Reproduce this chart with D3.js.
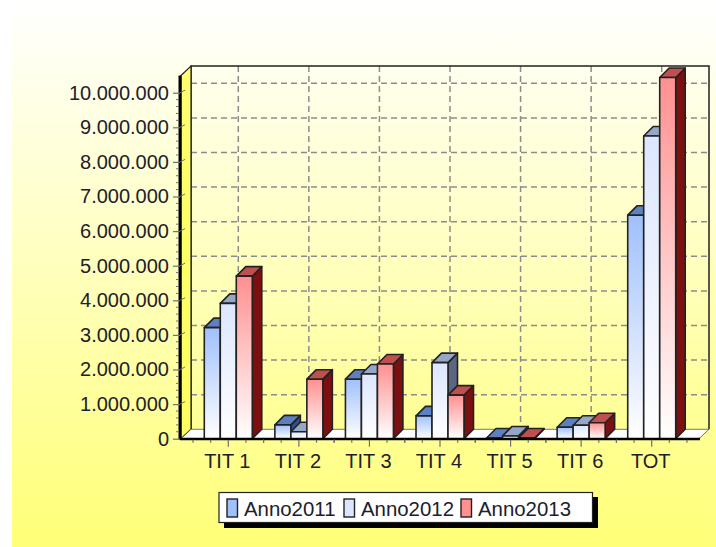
<!DOCTYPE html>
<html lang="en">
<head>
<meta charset="UTF-8">
<title>Anno2011-2013</title>
<style>
    html, body { margin: 0; padding: 0; background: #fff; overflow: hidden; }
    svg { display: block; }
    text { font-family: "Liberation Sans", Arial, sans-serif; font-size: 20px; fill: #20202c; }
</style>
</head>
<body>
<div id="chart"></div>
<script src="https://cdn.jsdelivr.net/npm/d3@7/dist/d3.min.js"></script>
<script>
    var categories = ["TIT 1", "TIT 2", "TIT 3", "TIT 4", "TIT 5", "TIT 6", "TOT"];
    var seriesNames = ["Anno2011", "Anno2012", "Anno2013"];
    var anno2011 = [3210000, 400000, 1720000, 660000, 20000, 330000, 6460000];
    var anno2012 = [3910000, 200000, 1870000, 2200000, 80000, 390000, 8750000];
    var anno2013 = [4700000, 1720000, 2160000, 1260000, 20000, 460000, 10440000];
    var yTicks = [0, 1000000, 2000000, 3000000, 4000000, 5000000, 6000000, 7000000, 8000000, 9000000, 10000000];

    var seriesValues = [anno2011, anno2012, anno2013];
    var colors = [
        { front: "#a0c0fc", top: "#5c80c0", side: "#2c5090" },
        { front: "#dce6ff", top: "#96a6c6", side: "#5a6682" },
        { front: "#ff9090", top: "#c05050", side: "#7c1010" }
    ];

    var W = 716, H = 547;
    var depthX = 10, depthY = 9.4;
    var barDepth = 9.5;
    var plot = { left: 181, right: 699, bottom: 438.7, top: 75.5 };

    var svg = d3.select("#chart").append("svg").attr("width", W).attr("height", H);
    var defs = svg.append("defs");

    var bg = defs.append("linearGradient").attr("id", "bg").attr("x1", 0).attr("y1", 0).attr("x2", 0).attr("y2", 1);
    bg.append("stop").attr("offset", 0).attr("stop-color", "#ffffff");
    bg.append("stop").attr("offset", 1).attr("stop-color", "#ffff78");

    var wall = defs.append("linearGradient").attr("id", "wall").attr("x1", 0).attr("y1", 0).attr("x2", 0).attr("y2", 1);
    wall.append("stop").attr("offset", 0).attr("stop-color", "#ffff70");
    wall.append("stop").attr("offset", 1).attr("stop-color", "#ffff60");

    colors.forEach(function(c, i) {
        var g = defs.append("linearGradient").attr("id", "bar" + i).attr("x1", 0).attr("y1", 0).attr("x2", 0).attr("y2", 1);
        g.append("stop").attr("offset", 0).attr("stop-color", c.front);
        g.append("stop").attr("offset", 1).attr("stop-color", "#ffffff");
    });

    svg.append("rect").attr("x", 12).attr("y", 0).attr("width", W - 12).attr("height", H).attr("fill", "url(#bg)");

    var x = d3.scaleBand().domain(categories).range([193, 687]);
    var xSub = d3.scaleBand().domain(d3.range(seriesNames.length))
        .range([x.bandwidth() * 0.16, x.bandwidth() * 0.84]);
    var y = d3.scaleLinear().domain([0, 10000000]).range([plot.bottom, 92.7]);

    var fmt = d3.formatLocale({ decimal: ",", thousands: ".", grouping: [3], currency: ["", ""] }).format(",d");

    function pts(a) { return a.map(function(p) { return p.join(","); }).join(" "); }

    // back wall lines
    var backTop = plot.top - depthY, backBottom = plot.bottom - depthY;
    var gBack = svg.append("g");

    gBack.selectAll("line.hgrid").data(yTicks.slice(1)).enter().append("line")
        .attr("class", "hgrid")
        .attr("x1", plot.left + depthX).attr("x2", plot.right + depthX)
        .attr("y1", function(d) { return y(d) - depthY; })
        .attr("y2", function(d) { return y(d) - depthY; })
        .attr("stroke", "#8c8c8c").attr("stroke-width", 1.5).attr("stroke-dasharray", "6,4");

    gBack.selectAll("line.vgrid").data(categories).enter().append("line")
        .attr("class", "vgrid")
        .attr("x1", function(d) { return x(d) + x.bandwidth() / 2 + depthX; })
        .attr("x2", function(d) { return x(d) + x.bandwidth() / 2 + depthX; })
        .attr("y1", backTop).attr("y2", backBottom)
        .attr("stroke", "#8c8c8c").attr("stroke-width", 1.5).attr("stroke-dasharray", "6,4");

    gBack.append("polyline")
        .attr("points", pts([[plot.left + depthX, backBottom], [plot.left + depthX, backTop], [plot.right + depthX, backTop], [plot.right + depthX, backBottom]]))
        .attr("fill", "none").attr("stroke", "#222").attr("stroke-width", 1.5);

    // left wall
    gBack.append("polygon")
        .attr("points", pts([[plot.left, plot.top], [plot.left + depthX, backTop], [plot.left + depthX, backBottom], [plot.left, plot.bottom]]))
        .attr("fill", "url(#wall)").attr("stroke", "#222").attr("stroke-width", 1.2);

    // floor
    gBack.append("polygon")
        .attr("points", pts([[plot.left, plot.bottom], [plot.left + depthX, backBottom], [plot.right + depthX, backBottom], [plot.right, plot.bottom]]))
        .attr("fill", "#fff").attr("stroke", "#555").attr("stroke-width", 0.8);

    // bars, drawn left to right so the next one covers the side of the last
    var bars = [];
    categories.forEach(function(c, ci) {
        seriesValues.forEach(function(vals, si) {
            bars.push({ cat: c, series: si, value: vals[ci] });
        });
    });

    var gBars = svg.append("g");
    var bar = gBars.selectAll("g.bar").data(bars).enter().append("g").attr("class", "bar")
        .attr("stroke", "#222").attr("stroke-width", 1.6).attr("stroke-linejoin", "round");

    function bx0(d) { return x(d.cat) + xSub(d.series); }
    function bx1(d) { return bx0(d) + xSub.bandwidth(); }

    bar.append("polygon").attr("fill", function(d) { return colors[d.series].side; })
        .attr("points", function(d) {
            return pts([[bx1(d), y(d.value)], [bx1(d) + barDepth, y(d.value) - barDepth], [bx1(d) + barDepth, y(0) - barDepth], [bx1(d), y(0)]]);
        });
    bar.append("polygon").attr("fill", function(d) { return colors[d.series].top; })
        .attr("points", function(d) {
            return pts([[bx0(d), y(d.value)], [bx0(d) + barDepth, y(d.value) - barDepth], [bx1(d) + barDepth, y(d.value) - barDepth], [bx1(d), y(d.value)]]);
        });
    bar.append("rect").attr("fill", function(d) { return "url(#bar" + d.series + ")"; })
        .attr("x", bx0).attr("y", function(d) { return y(d.value); })
        .attr("width", xSub.bandwidth())
        .attr("height", function(d) { return y(0) - y(d.value); });

    // thick front edges
    svg.append("line").attr("x1", plot.left - 1).attr("x2", plot.right + 1).attr("y1", plot.bottom + 0.3).attr("y2", plot.bottom + 0.3)
        .attr("stroke", "#000").attr("stroke-width", 2.4);
    svg.append("line").attr("x1", plot.left - 1).attr("x2", plot.left - 1).attr("y1", plot.top).attr("y2", plot.bottom + 1)
        .attr("stroke", "#000").attr("stroke-width", 3);

    // y axis
    var minor = d3.range(0, 10000001, 200000).filter(function(v) { return v % 1000000 !== 0; });
    var gMinorY = svg.append("g");
    gMinorY.selectAll("line").data(minor).enter().append("line")
        .attr("x1", plot.left - 5).attr("x2", plot.left - 2)
        .attr("y1", function(d) { return y(d); }).attr("y2", function(d) { return y(d); })
        .attr("stroke", "#707070").attr("stroke-width", 1);

    var gy = svg.append("g").attr("transform", "translate(" + (plot.left - 1) + ",0)")
        .call(d3.axisLeft(y).tickValues(yTicks).tickFormat(fmt).tickSize(7).tickPadding(4));
    gy.select(".domain").remove();
    gy.selectAll("line").attr("stroke", "#707070").attr("stroke-width", 1.2);
    gy.selectAll("text").attr("font-size", 20);

    // slanted piece of the tick on the wall
    svg.append("g").selectAll("line").data(yTicks.slice(1)).enter().append("line")
        .attr("x1", plot.left - 1).attr("x2", plot.left + 4)
        .attr("y1", function(d) { return y(d); }).attr("y2", function(d) { return y(d) - 2.5; })
        .attr("stroke", "#707070").attr("stroke-width", 1);

    // x axis
    var gx = svg.append("g").attr("transform", "translate(0," + (plot.bottom + 1) + ")")
        .call(d3.axisBottom(x).tickSize(7).tickPadding(7));
    gx.select(".domain").remove();
    gx.selectAll("line").attr("stroke", "#707070").attr("stroke-width", 1.2);
    gx.selectAll("text").attr("font-size", 20).attr("dx", -1);

    var minorX = [];
    categories.forEach(function(c) {
        [0, 0.25, 0.75, 1].forEach(function(f) { minorX.push(x(c) + x.bandwidth() * f); });
    });
    svg.append("g").selectAll("line").data(minorX).enter().append("line")
        .attr("x1", function(d) { return d; }).attr("x2", function(d) { return d; })
        .attr("y1", plot.bottom + 1).attr("y2", plot.bottom + 4)
        .attr("stroke", "#707070").attr("stroke-width", 1.2);

    // legend
    var legend = svg.append("g");
    legend.append("rect").attr("x", 224).attr("y", 497).attr("width", 374).attr("height", 31).attr("fill", "#000");
    legend.append("rect").attr("x", 219).attr("y", 492.5).attr("width", 373.5).attr("height", 30)
        .attr("fill", "#fff").attr("stroke", "#222").attr("stroke-width", 1.2);

    var legendX = d3.scalePoint().domain(seriesNames).range([227, 461]);
    var item = legend.selectAll("g.item").data(seriesNames).enter().append("g").attr("class", "item")
        .attr("transform", function(d) { return "translate(" + legendX(d) + ",499)"; });
    item.append("rect").attr("width", 10.5).attr("height", 18)
        .attr("fill", function(d, i) { return colors[i].front; })
        .attr("stroke", "#222").attr("stroke-width", 1.4);
    item.append("text").attr("x", 17).attr("y", 16.7).style("font-size", "20.4px").text(function(d) { return d; });
</script>
</body>
</html>
